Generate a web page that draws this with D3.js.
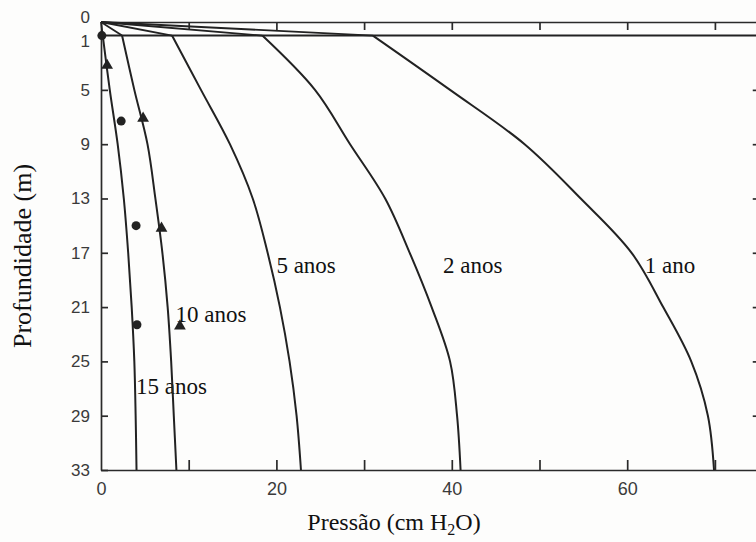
<!DOCTYPE html>
<html>
<head>
<meta charset="utf-8">
<script src="https://cdn.jsdelivr.net/npm/d3@7"></script>
<style>
  body { margin: 0; background: #fdfdfc; }
  .axis path, .axis line { stroke: #2a2a2a; stroke-width: 1.7; }
  .axis text { font-family: "Liberation Sans", Arial, sans-serif; fill: #3a3a3a; }
  .curve { fill: none; stroke: #222; stroke-width: 2; }
  .lbl { font-family: "Liberation Serif", "Times New Roman", serif; fill: #111; }
</style>
</head>
<body>
<div id="chart"></div>
<script>
// depths (m) where each curve was read
var depths = [1, 5, 9, 13, 17, 21, 25, 29, 33];

// pressure (cm H2O) for each curve, same order as depths
var names = ["15 anos", "10 anos", "5 anos", "2 anos", "1 ano"];
var p15 = [0.2, 1.0, 1.9, 2.6, 3.1, 3.5, 3.8, 3.95, 4.05];
var p10 = [2.4, 3.8, 5.3, 6.2, 7.0, 7.6, 8.0, 8.3, 8.6];
var p5 = [8.1, 11.4, 14.7, 17.3, 19.0, 20.4, 21.5, 22.3, 22.8];
var p2 = [18.4, 24.4, 28.4, 32.4, 35.2, 37.7, 39.8, 40.6, 41.0];
var p1 = [31.0, 39.8, 48.3, 54.7, 60.5, 64.1, 67.3, 69.2, 69.9];

// measured points
var circX = [0.1, 2.3, 4.0, 4.1],
    circY = [1.0, 7.3, 15.0, 22.3];
var triX = [0.7, 4.8, 6.9, 9.0],
    triY = [3.2, 7.1, 15.2, 22.4];

// label positions (data units)
var labelX = [4.0, 8.5, 20.0, 39.0, 62.0],
    labelY = [27.4, 22.1, 18.5, 18.5, 18.5];

var depthTicks = [0, 1, 5, 9, 13, 17, 21, 25, 29, 33];
var pressTicks = [0, 10, 20, 30, 40, 50, 60, 70];
var pressLabels = [0, 20, 40, 60];
var topLine = 1;

var width = 756,
    height = 542;

var svg = d3.select("#chart")
    .append("svg")
    .attr("width", width)
    .attr("height", height);

var x = d3.scaleLinear().domain([0, 75]).range([101, 758.75]);
var y = d3.scaleLinear().domain([0, 33]).range([22, 470]);

// axes
svg.append("g")
    .attr("class", "axis")
    .attr("transform", "translate(" + x(0) + ",0)")
    .call(d3.axisLeft(y).tickValues(depthTicks).tickSize(-7).tickPadding(11).tickSizeOuter(0))
    .call(function(g) {
        g.selectAll(".tick line").filter(function(d) { return d < 2; }).remove();
        g.selectAll("text").attr("font-size", "17px");
        // the 0 and 1 labels sit very close, spread them a bit
        g.selectAll(".tick text").filter(function(d) { return d === 0; }).attr("dy", "0.0em");
        g.selectAll(".tick text").filter(function(d) { return d === 1; }).attr("dy", "0.62em");
    });

svg.append("g")
    .attr("class", "axis")
    .attr("transform", "translate(0," + y(33) + ")")
    .call(d3.axisBottom(x).tickValues(pressTicks).tickSize(-10).tickPadding(12).tickSizeOuter(0)
        .tickFormat(function(d) { return pressLabels.indexOf(d) > -1 ? d : ""; }))
    .call(function(g) {
        g.selectAll(".tick line").filter(function(d) { return d === 0; }).remove();
        g.selectAll("text").attr("font-size", "18px");
    });

svg.append("g")
    .attr("class", "axis")
    .attr("transform", "translate(0," + y(0) + ")")
    .call(d3.axisTop(x).tickValues(pressTicks.slice(1)).tickSize(-8).tickSizeOuter(0).tickFormat(""));

svg.append("g")
    .attr("class", "axis")
    .attr("transform", "translate(" + x(75) + ",0)")
    .call(d3.axisRight(y).tickValues(depthTicks.slice(2, -1)).tickSize(-6).tickSizeOuter(0).tickFormat(""));

// horizontal line at 1 m
svg.append("line")
    .attr("x1", x(0)).attr("x2", x(75))
    .attr("y1", y(topLine)).attr("y2", y(topLine))
    .attr("stroke", "#222").attr("stroke-width", 2);

var series = [p15, p10, p5, p2, p1];

var line = d3.line()
    .x(function(d) { return x(d[0]); })
    .y(function(d) { return y(d[1]); })
    .curve(d3.curveCatmullRom.alpha(0.5));

series.forEach(function(s, i) {
    var pts = s.map(function(v, j) { return [v, depths[j]]; });
    // straight line from the origin to the 1 m point
    svg.append("line")
        .attr("x1", x(0)).attr("y1", y(0))
        .attr("x2", x(pts[0][0])).attr("y2", y(pts[0][1]))
        .attr("stroke", "#222").attr("stroke-width", 1.8);
    svg.append("path")
        .attr("class", "curve")
        .attr("d", line(pts));
    svg.append("text")
        .attr("class", "lbl")
        .attr("x", x(labelX[i]))
        .attr("y", y(labelY[i]))
        .attr("font-size", "23px")
        .text(names[i]);
});

// markers
svg.selectAll(".circ")
    .data(circX)
    .enter().append("circle")
    .attr("class", "circ")
    .attr("cx", function(d) { return x(d); })
    .attr("cy", function(d, i) { return y(circY[i]); })
    .attr("r", 4.5)
    .attr("fill", "#222");

svg.selectAll(".tri")
    .data(triX)
    .enter().append("path")
    .attr("class", "tri")
    .attr("d", d3.symbol().type(d3.symbolTriangle).size(60))
    .attr("transform", function(d, i) { return "translate(" + x(d) + "," + y(triY[i]) + ")"; })
    .attr("fill", "#222");

// axis titles
svg.append("text")
    .attr("class", "lbl")
    .attr("transform", "translate(31,256) rotate(-90)")
    .attr("text-anchor", "middle")
    .attr("font-size", "26px")
    .text("Profundidade (m)");

var tt = svg.append("text")
    .attr("class", "lbl")
    .attr("x", 394)
    .attr("y", 530)
    .attr("text-anchor", "middle")
    .attr("font-size", "24px");
tt.append("tspan").text("Pressão (cm H");
tt.append("tspan").attr("font-size", "16px").attr("dy", 5).text("2");
tt.append("tspan").attr("dy", -5).text("O)");
</script>
</body>
</html>
